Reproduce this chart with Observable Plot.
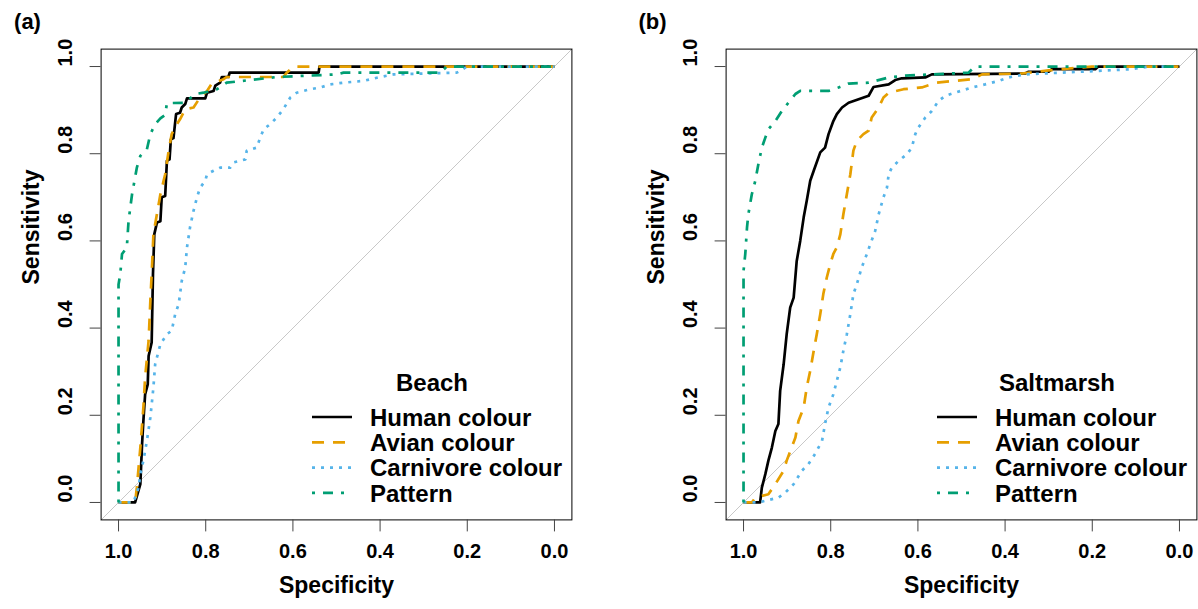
<!DOCTYPE html>
<html><head><meta charset="utf-8">
<script src="https://cdn.jsdelivr.net/npm/d3@7"></script>
<script src="https://cdn.jsdelivr.net/npm/@observablehq/plot@0.6"></script>
<style>
body{margin:0;background:#fff;}
#wrap{position:relative;width:1198px;height:609px;display:flex;}
svg{font-family:"Liberation Sans",Arial,sans-serif;}
</style></head><body><div id="wrap"></div>
<script>
// ---- data: [specificity, sensitivity] ----
const beachHuman = [[1,0],[0.962,0],[0.950,0.042],[0.946,0.134],[0.943,0.187],[0.939,0.248],[0.933,0.271],[0.931,0.336],[0.924,0.367],[0.921,0.524],[0.918,0.615],[0.912,0.642],[0.904,0.645],[0.901,0.700],[0.893,0.703],[0.889,0.784],[0.883,0.787],[0.880,0.833],[0.874,0.836],[0.868,0.891],[0.859,0.894],[0.855,0.906],[0.847,0.914],[0.843,0.927],[0.801,0.927],[0.797,0.940],[0.782,0.944],[0.778,0.956],[0.767,0.963],[0.763,0.976],[0.748,0.976],[0.745,0.986],[0.541,0.986],[0.539,1],[0,1]];
const beachAvian = [[1,0],[0.962,0],[0.958,0.034],[0.950,0.126],[0.943,0.218],[0.939,0.287],[0.931,0.371],[0.927,0.463],[0.924,0.524],[0.920,0.615],[0.912,0.661],[0.904,0.707],[0.893,0.753],[0.885,0.807],[0.878,0.845],[0.866,0.868],[0.859,0.879],[0.847,0.902],[0.828,0.906],[0.813,0.929],[0.797,0.944],[0.786,0.961],[0.759,0.971],[0.752,0.976],[0.622,0.976],[0.614,0.986],[0.599,1],[0,1]];
const beachCarnivore = [[1,0],[0.966,0],[0.954,0.034],[0.950,0.065],[0.943,0.096],[0.935,0.141],[0.927,0.195],[0.920,0.264],[0.916,0.317],[0.904,0.363],[0.889,0.386],[0.878,0.394],[0.870,0.432],[0.862,0.455],[0.855,0.508],[0.847,0.539],[0.843,0.585],[0.836,0.631],[0.828,0.669],[0.820,0.700],[0.813,0.722],[0.801,0.738],[0.797,0.753],[0.782,0.761],[0.767,0.768],[0.744,0.768],[0.736,0.780],[0.709,0.787],[0.706,0.807],[0.683,0.814],[0.675,0.837],[0.667,0.856],[0.652,0.868],[0.637,0.883],[0.622,0.902],[0.606,0.929],[0.591,0.940],[0.560,0.948],[0.537,0.952],[0.515,0.959],[0.484,0.963],[0.438,0.967],[0.400,0.976],[0.369,0.982],[0.224,0.986],[0.216,0.990],[0.201,1],[0,1]];
const beachPattern = [[1,0],[1,0.50],[0.996,0.524],[0.992,0.570],[0.981,0.585],[0.977,0.646],[0.969,0.707],[0.958,0.768],[0.950,0.795],[0.935,0.810],[0.927,0.845],[0.916,0.868],[0.904,0.881],[0.893,0.889],[0.889,0.916],[0.847,0.917],[0.824,0.937],[0.805,0.940],[0.774,0.948],[0.752,0.963],[0.637,0.976],[0.499,0.982],[0.484,0.986],[0.262,0.986],[0.247,1],[0,1]];

const marshHuman = [[1,0],[0.962,0],[0.958,0.034],[0.950,0.065],[0.943,0.096],[0.935,0.126],[0.927,0.164],[0.920,0.180],[0.916,0.256],[0.908,0.317],[0.901,0.386],[0.893,0.447],[0.885,0.470],[0.878,0.554],[0.870,0.600],[0.862,0.654],[0.855,0.692],[0.847,0.738],[0.839,0.761],[0.824,0.803],[0.813,0.814],[0.805,0.845],[0.794,0.875],[0.786,0.891],[0.774,0.906],[0.759,0.917],[0.736,0.925],[0.713,0.933],[0.702,0.953],[0.667,0.959],[0.652,0.969],[0.637,0.973],[0.583,0.975],[0.568,0.982],[0.354,0.984],[0.346,0.988],[0.300,0.988],[0.293,0.994],[0.193,0.994],[0.186,1],[0,1]];
const marshAvian = [[1,0],[0.981,0],[0.973,0.011],[0.943,0.019],[0.927,0.042],[0.908,0.073],[0.901,0.096],[0.881,0.149],[0.874,0.187],[0.862,0.218],[0.855,0.264],[0.847,0.302],[0.839,0.348],[0.832,0.386],[0.824,0.432],[0.817,0.478],[0.809,0.516],[0.801,0.547],[0.794,0.570],[0.786,0.585],[0.778,0.615],[0.771,0.661],[0.763,0.707],[0.755,0.753],[0.748,0.807],[0.740,0.830],[0.725,0.845],[0.713,0.853],[0.706,0.883],[0.690,0.906],[0.679,0.929],[0.667,0.940],[0.633,0.948],[0.591,0.952],[0.557,0.963],[0.476,0.971],[0.453,0.982],[0.362,0.984],[0.300,0.991],[0.224,0.998],[0.201,1],[0,1]];
const marshCarnivore = [[1,0],[0.966,0],[0.950,0.004],[0.920,0.011],[0.904,0.023],[0.885,0.042],[0.866,0.073],[0.851,0.088],[0.836,0.111],[0.820,0.141],[0.813,0.180],[0.805,0.218],[0.794,0.248],[0.786,0.279],[0.778,0.310],[0.771,0.348],[0.763,0.386],[0.755,0.432],[0.748,0.478],[0.740,0.501],[0.729,0.539],[0.717,0.570],[0.709,0.593],[0.698,0.623],[0.690,0.661],[0.679,0.700],[0.671,0.722],[0.667,0.753],[0.660,0.768],[0.644,0.784],[0.625,0.799],[0.614,0.814],[0.606,0.845],[0.599,0.860],[0.583,0.883],[0.568,0.898],[0.553,0.921],[0.537,0.933],[0.515,0.940],[0.476,0.952],[0.446,0.959],[0.415,0.967],[0.392,0.975],[0.354,0.982],[0.186,0.990],[0.109,0.994],[0.071,1],[0,1]];
const marshPattern = [[1,0],[1,0.531],[0.996,0.570],[0.992,0.631],[0.989,0.661],[0.981,0.707],[0.973,0.738],[0.966,0.776],[0.958,0.814],[0.950,0.837],[0.943,0.856],[0.927,0.875],[0.912,0.898],[0.897,0.917],[0.881,0.937],[0.870,0.944],[0.805,0.944],[0.782,0.952],[0.759,0.961],[0.713,0.963],[0.667,0.975],[0.629,0.979],[0.568,0.982],[0.484,0.986],[0.469,1],[0,1]];

const chanceLine = [[1.04,-0.04],[-0.04,1.04]];
const seriesNames = ["Human colour","Avian colour","Carnivore colour","Pattern"];
const panelTags = ["(a)","(b)"];
const panelTitles = ["Beach","Saltmarsh"];
const tickValues = [0,0.2,0.4,0.6,0.8,1];

// ---- styles ----
const seriesColors = ["#000000","#E69F00","#56B4E9","#009E73"];
const seriesDash = ["none","12,9","3,6","3,8,10,8"];
const LW = 2.7;
const FONT = '"Liberation Sans", Arial, sans-serif';

function panel(tag, title, curves, width, marginRight) {
  const H = 609, mL = 100.6, mT = 48.6, mB = 89.6;
  const fmt = d3.format(".1f");
  const svg = Plot.plot({
    width, height: H, marginLeft: mL, marginTop: mT, marginBottom: mB, marginRight,
    style: {fontFamily: FONT, background: "white", overflow: "visible"},
    x: {domain: [1.04, -0.04]},
    y: {domain: [-0.04, 1.04]},
    marks: [
      Plot.line(chanceLine, {x: d => d[0], y: d => d[1], stroke: "#c8c8c8", strokeWidth: 1}),
      ...curves.map((c, i) => Plot.line(c, {x: d => d[0], y: d => d[1], stroke: seriesColors[i],
        strokeWidth: LW, strokeDasharray: seriesDash[i], strokeLinecap: "butt", strokeLinejoin: "round"})),
      Plot.frame({stroke: "#000", strokeWidth: 1}),
      Plot.axisX({ticks: tickValues, tickSize: 12, tickFormat: () => "", stroke: "#444", label: null}),
      Plot.axisY({ticks: tickValues, tickSize: 11, tickFormat: () => "", stroke: "#444", label: null}),
      Plot.text(tickValues, {x: d => d, frameAnchor: "bottom", dy: 37.6, text: fmt, fontSize: 20, fontWeight: "bold", fill: "#000"}),
      Plot.text(tickValues, {y: d => d, frameAnchor: "left", dx: -35.6, rotate: -90, text: fmt, fontSize: 20, fontWeight: "bold", fill: "#000"}),
      Plot.text(["Specificity"], {text: d => d, frameAnchor: "bottom", dy: 72.6, fontSize: 23, fontWeight: "bold", fill: "#000"}),
      Plot.text(["Sensitivity"], {text: d => d, frameAnchor: "left", dx: -69.6, rotate: -90, fontSize: 23, fontWeight: "bold", fill: "#000"}),
      Plot.text([tag], {text: d => d, frameAnchor: "top-left", textAnchor: "middle", lineAnchor: "middle",
        dx: -73.6, dy: -27.6, fontSize: 22, fontWeight: "bold", fill: "#000"})
    ]
  });
  // legend (bottom-right inside frame)
  const right = width - marginRight, bottom = H - mB;
  const g = d3.select(svg).append("g").attr("font-family", FONT).attr("font-weight", "bold").attr("font-size", 24);
  g.append("text").attr("x", right - 139.4).attr("y", bottom - 137.4).attr("dy", "0.36em")
    .attr("text-anchor", "middle").text(title);
  seriesNames.forEach((name, i) => {
    const y = bottom - 102.4 + i * 25.3;
    g.append("line").attr("x1", right - 259.4).attr("x2", right - 219.4).attr("y1", y).attr("y2", y)
      .attr("stroke", seriesColors[i]).attr("stroke-width", LW).attr("stroke-dasharray", seriesDash[i]);
    g.append("text").attr("x", right - 201.4).attr("y", y).attr("dy", "0.36em")
      .attr("text-anchor", "start").text(name);
  });
  return svg;
}

const wrap = document.getElementById("wrap");
wrap.appendChild(panel(panelTags[0], panelTitles[0], [beachHuman, beachAvian, beachCarnivore, beachPattern], 625, 53.6));
wrap.appendChild(panel(panelTags[1], panelTitles[1], [marshHuman, marshAvian, marshCarnivore, marshPattern], 573, 1.6));
</script></body></html>
